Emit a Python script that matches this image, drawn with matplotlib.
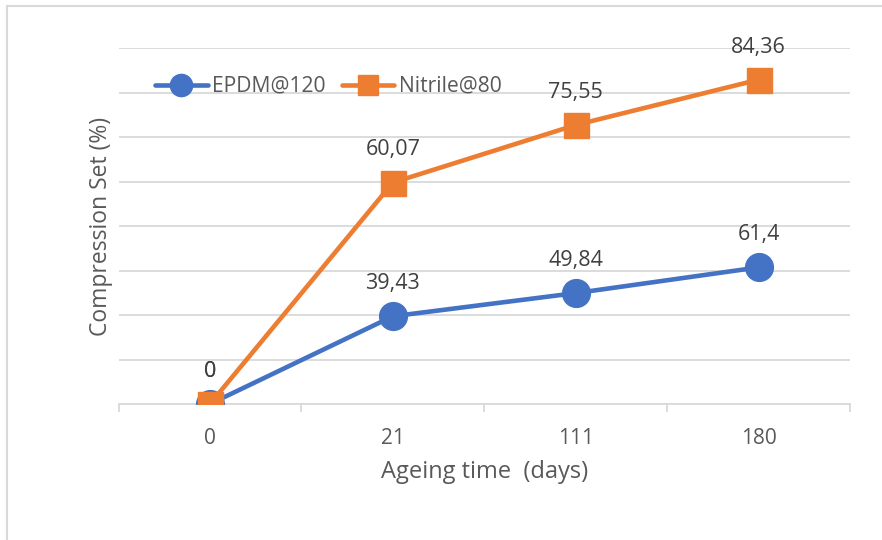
import numpy as np
import matplotlib.pyplot as plt

# data (stacked line chart: second series sits on the first)
ageing_days = ['0', '21', '111', '180']
epdm_120 = [0, 39.43, 49.84, 61.4]
nitrile_80 = [0, 60.07, 75.55, 84.36]
epdm_labels = ['0', '39,43', '49,84', '61,4']
nitrile_labels = ['0', '60,07', '75,55', '84,36']

blue = '#4472C4'
orange = '#ED7D31'
grid_col = '#D9D9D9'
text_col = '#595959'

plt.rcParams['font.family'] = ['Open Sans', 'DejaVu Sans']

fig = plt.figure(figsize=(8.82, 5.4), dpi=100)
ax = fig.add_axes([118.5 / 882, 1 - 404 / 540, (850 - 118.5) / 882, (404 - 48) / 540])

x = np.arange(len(ageing_days))
stack_top = np.array(epdm_120) + np.array(nitrile_80)

ax.plot(x, epdm_120, color=blue, lw=3.3, marker='o', ms=20,
        mfc=blue, mec=blue, label='EPDM@120', zorder=3, solid_capstyle='round')
ax.plot(x, stack_top, color=orange, lw=3.3, marker='s', ms=18,
        mfc=orange, mec=orange, label='Nitrile@80', zorder=4, solid_capstyle='round')

for xi, yi, lab in zip(x, epdm_120, epdm_labels):
    ax.annotate(lab, (xi, yi), xytext=(0, 23.5), textcoords='offset points',
                ha='center', va='center', fontsize=15.5, color='#404040', zorder=5)
for xi, yi, lab in zip(x, stack_top, nitrile_labels):
    ax.annotate(lab, (xi, yi), xytext=(0, 23.5), textcoords='offset points',
                ha='center', va='center', fontsize=15.5, color='#404040', zorder=5)

ax.set_xlim(-0.5, len(ageing_days) - 0.5)
ax.set_ylim(0, 160)
ax.set_yticks(np.arange(0, 161, 20))
ax.yaxis.grid(True, color=grid_col, lw=1.3)
ax.tick_params(axis='y', length=0, labelleft=False)

ax.set_xticks(x)
ax.set_xticklabels(ageing_days, fontsize=15, color=text_col)
ax.set_xticks(np.arange(-0.5, len(ageing_days)), minor=True)
ax.tick_params(axis='x', which='major', length=0, pad=17)
ax.tick_params(axis='x', which='minor', length=6, width=1.3, color=grid_col)

for side in ['top', 'right', 'left']:
    ax.spines[side].set_visible(False)
ax.spines['bottom'].set_color(grid_col)
ax.spines['bottom'].set_linewidth(1.3)
ax.set_axisbelow(True)

ax.set_xlabel('Ageing time  (days)', fontsize=17, color=text_col, labelpad=8)
ax.set_ylabel('Compression Set (%)', fontsize=16.5, color=text_col, labelpad=4)

leg = ax.legend(loc='upper left', bbox_to_anchor=(0.024, 0.975), ncol=2,
                frameon=False, fontsize=15.2, handlelength=2.5, handletextpad=0.2,
                columnspacing=0.75, labelcolor=text_col, markerscale=0.8)

# chart area border (only left and top visible in the crop)
fig.add_artist(plt.Line2D([7 / 882, 7 / 882], [0, 1 - 6 / 540], color=grid_col, lw=1.5))
fig.add_artist(plt.Line2D([7 / 882, 1], [1 - 6 / 540, 1 - 6 / 540], color=grid_col, lw=1.5))

fig.savefig('out.png', dpi=100)
